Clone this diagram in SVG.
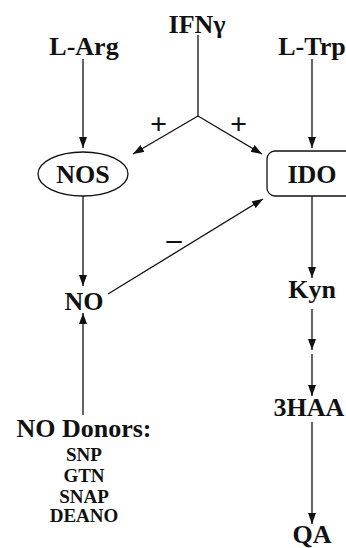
<svg xmlns="http://www.w3.org/2000/svg" width="346" height="548" viewBox="0 0 346 548">
<style>
.t{font-family:"Liberation Serif","Times New Roman",serif;font-weight:bold;fill:#111;text-anchor:middle}
.big{font-size:26px}
.sm{font-size:19px}
.op{font-size:30px}
.c{stroke:#111;stroke-width:1.3;fill:none}
.a{marker-end:url(#ah)}
</style>
<defs>
<marker id="ah" markerUnits="userSpaceOnUse" markerWidth="12" markerHeight="8" refX="11" refY="4" orient="auto">
<path d="M0,0 L11,4 L0,8 Z" fill="#111"/>
</marker>
</defs>
<rect width="346" height="548" fill="#fff"/>
<g id="connectors">
<line class="c a" x1="83" y1="59" x2="83" y2="148"/>
<line class="c a" x1="312" y1="59" x2="312" y2="148"/>
<line class="c" x1="198" y1="35" x2="198" y2="116"/>
<line class="c a" x1="198" y1="116" x2="133" y2="154"/>
<line class="c a" x1="198" y1="116" x2="262" y2="154"/>
<line class="c a" x1="83" y1="196" x2="83" y2="286"/>
<line class="c a" x1="83" y1="415" x2="83" y2="313"/>
<line class="c a" x1="108" y1="294" x2="263" y2="199"/>
<line class="c a" x1="312" y1="196" x2="312" y2="278"/>
<line class="c a" x1="312" y1="309" x2="312" y2="350"/>
<line class="c a" x1="312" y1="354" x2="312" y2="396"/>
<line class="c a" x1="312" y1="422" x2="312" y2="524"/>
<text class="t op" x="158.5" y="134">+</text>
<text class="t op" x="238.5" y="134">+</text>
<text class="t op" x="174" y="249">–</text>
</g>
<g id="IFNg"><text class="t big" x="197" y="33">IFNγ</text></g>
<g id="LArg"><text class="t big" x="84" y="55">L-Arg</text></g>
<g id="LTrp"><text class="t big" x="312" y="55">L-Trp</text></g>
<g id="NOS">
<ellipse cx="83" cy="174" rx="45" ry="22" fill="#fff" stroke="#111" stroke-width="1.3"/>
<text class="t big" x="83" y="183">NOS</text>
</g>
<g id="IDO">
<rect x="267" y="151" width="100" height="45" rx="8" fill="#fff" stroke="#111" stroke-width="1.3"/>
<text class="t big" x="312" y="183">IDO</text>
</g>
<g id="NO"><text class="t big" x="84" y="310">NO</text></g>
<g id="Kyn"><text class="t big" x="312" y="298">Kyn</text></g>
<g id="HAA"><text class="t big" x="309" y="416">3HAA</text></g>
<g id="QA"><text class="t big" x="312" y="543">QA</text></g>
<g id="donors">
<text class="t big" x="84" y="437">NO Donors:</text>
<text class="t sm" x="84" y="461">SNP</text>
<text class="t sm" x="84" y="482">GTN</text>
<text class="t sm" x="84" y="503">SNAP</text>
<text class="t sm" x="84" y="522">DEANO</text>
</g>
</svg>
